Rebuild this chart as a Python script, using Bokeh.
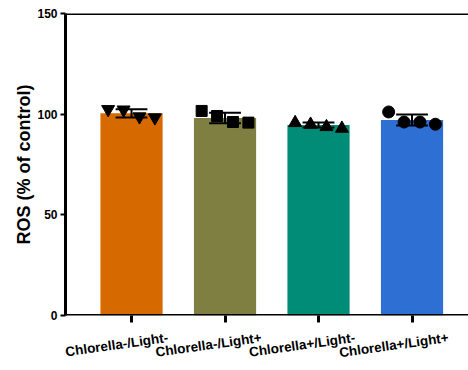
from bokeh.plotting import figure
from bokeh.models import FixedTicker, LinearAxis, Span, Range1d
from bokeh.embed import file_html
from bokeh.resources import INLINE

groups = ["Chlorella-/Light-", "Chlorella-/Light+", "Chlorella+/Light-", "Chlorella+/Light+"]
means = [100.4, 98.1, 94.6, 97.1]
sds = [2.1, 2.6, 1.2, 2.7]
points = [
    [102.4, 102.2, 98.8, 98.3],
    [101.6, 99.1, 96.1, 95.8],
    [95.7, 94.9, 93.7, 92.9],
    [101.1, 96.1, 96.1, 95.0],
]
colors = ["#D66A00", "#7F7F42", "#008C76", "#2D6FD3"]
markers = ["inverted_triangle", "square", "triangle", "circle"]
marker_sizes = [13, 11, 13, 12]
jitter = [-0.25, -0.085, 0.085, 0.25]
y_ticks = [0, 50, 100, 150]

FONT = "Liberation Sans"
xs = list(range(len(groups)))

p = figure(width=468, height=370, output_backend="svg", toolbar_location=None,
           x_range=Range1d(-0.706, 3.604), y_range=Range1d(0, 150),
           min_border_left=65, min_border_right=0, min_border_top=13, min_border_bottom=0,
           x_axis_location=None)
p.outline_line_color = None
p.grid.visible = False
p.background_fill_color = "white"

p.vbar(x=xs, top=means, width=0.665, color=colors, line_color=None)

lo = [m - s for m, s in zip(means, sds)]
hi = [m + s for m, s in zip(means, sds)]
cw = 0.17
p.segment(x0=xs, y0=lo, x1=xs, y1=hi, line_color="black", line_width=2)
p.segment(x0=[x - cw for x in xs], y0=hi, x1=[x + cw for x in xs], y1=hi, line_color="black", line_width=2)
p.segment(x0=[x - cw for x in xs], y0=lo, x1=[x + cw for x in xs], y1=lo, line_color="black", line_width=2)

for i, vals in enumerate(points):
    px = [xs[i] + j for j in jitter]
    p.scatter(x=px, y=vals, marker=markers[i], size=marker_sizes[i], color="black")

p.add_layout(Span(location=150, dimension="width", line_color="black", line_width=3))
p.add_layout(Span(location=0, dimension="width", line_color="black", line_width=3))

ya = p.yaxis[0]
ya.ticker = FixedTicker(ticks=y_ticks)
ya.axis_line_width = 3
ya.major_tick_line_width = 2
ya.major_tick_out = 5
ya.major_tick_in = 0
ya.minor_tick_line_color = None
ya.major_label_text_font = FONT
ya.major_label_text_font_style = "bold"
ya.major_label_text_font_size = "12px"
ya.major_label_text_color = "black"
ya.major_label_standoff = 3
ya.axis_label = "ROS (% of control)"
ya.axis_label_text_font = FONT
ya.axis_label_text_font_style = "bold"
ya.axis_label_text_font_size = "18px"
ya.axis_label_text_color = "black"
ya.axis_label_standoff = 0

xa = LinearAxis(ticker=FixedTicker(ticks=xs),
                major_label_overrides={x: " " for x in xs},
                axis_line_color=None,
                major_tick_line_color="#000000", major_tick_line_width=3,
                major_tick_out=7, major_tick_in=0, minor_tick_line_color=None,
                major_label_standoff=0, major_label_text_font_size="1px")
p.add_layout(xa, "below")

shift = 0.39
label_ticks = [x + shift for x in xs]
xl = LinearAxis(ticker=FixedTicker(ticks=label_ticks),
                major_label_overrides={t: g for t, g in zip(label_ticks, groups)},
                axis_line_color=None, major_tick_line_color=None, minor_tick_line_color=None,
                major_label_orientation=0.14, major_label_standoff=5,
                major_label_text_font=FONT, major_label_text_font_style="bold",
                major_label_text_font_size="13.5px", major_label_text_color="black")
p.add_layout(xl, "below")

open("out.html", "w").write(file_html(p, INLINE))
